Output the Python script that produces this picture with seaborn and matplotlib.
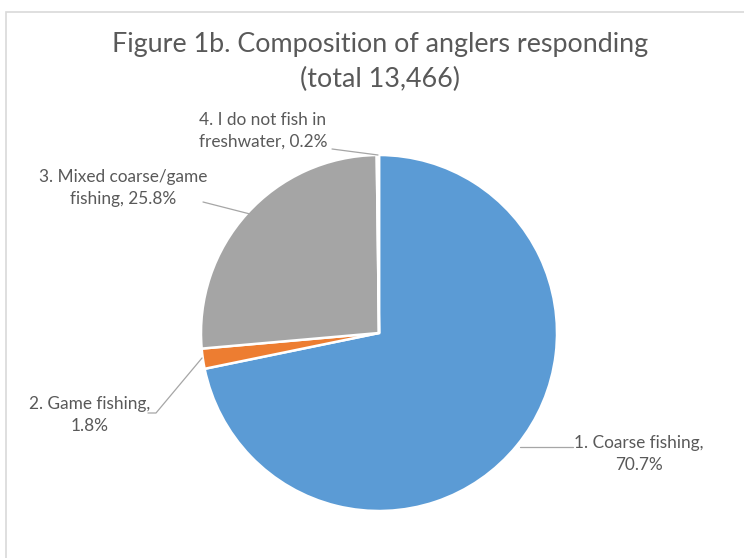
import matplotlib
matplotlib.use("Agg")
import matplotlib.pyplot as plt
from matplotlib.patches import Rectangle
import seaborn as sns

# Survey composition (percent of respondents)
categories = ["1. Coarse fishing", "2. Game fishing", "3. Mixed coarse/game fishing",
              "4. I do not fish in freshwater"]
shares = [70.7, 1.8, 25.8, 0.2]
label_texts = ["1. Coarse fishing,\n70.7%", "2. Game fishing,\n1.8%",
               "3. Mixed coarse/game\nfishing, 25.8%", "4. I do not fish in\nfreshwater, 0.2%"]
title_text = "Figure 1b. Composition of anglers responding\n(total 13,466)"

sns.set_style("white")
plt.rcParams["font.family"] = ["Lato", "DejaVu Sans"]

colors = sns.color_palette(["#5B9BD5", "#ED7D31", "#A5A5A5", "#FFC000"])
text_color = "#595959"
line_color = "#A6A6A6"

W, H = 744, 558
fig = plt.figure(figsize=(W / 100, H / 100), dpi=100)

# chart-area border
fig.patches.append(Rectangle((6 / W, -0.1), 1.2, 1 - 12 / H + 0.1, transform=fig.transFigure,
                             fill=False, edgecolor="#D9D9D9", linewidth=1.2))

cx, cy, r = 379, 333, 178
ax = fig.add_axes([(cx - r) / W, (H - cy - r) / H, 2 * r / W, 2 * r / H])
ax.pie(shares, colors=colors, startangle=90, counterclock=False, radius=1,
       wedgeprops=dict(edgecolor="white", linewidth=1.8))
ax.set_xlim(-1, 1)
ax.set_ylim(-1, 1)
ax.set_aspect("equal")
ax.axis("off")


def px(x, y):
    return (x - cx) / r, (cy - y) / r


# label positions (pixel space of the figure) and leader paths
label_pos = [(639, 454), (90, 415), (123, 188), (263, 131)]
leaders = [
    [(573, 447), (520, 447)],
    [(148, 413), (156, 413), (202, 358)],
    [(203, 202), (250, 214)],
    [(332, 149), (378, 155)],
]

for txt, (lx, ly), path in zip(label_texts, label_pos, leaders):
    tx, ty = px(lx, ly)
    ax.text(tx, ty, txt, ha="center", va="center", fontsize=12.4, color=text_color,
            linespacing=1.4, clip_on=False)
    xs, ys = zip(*[px(a, b) for a, b in path])
    ax.plot(xs, ys, color=line_color, linewidth=0.9, clip_on=False)

fig.text(380 / W, 1 - 62 / H, title_text, ha="center", va="center", fontsize=19.4,
         color=text_color, linespacing=1.45)

fig.savefig("out.png", dpi=100)
